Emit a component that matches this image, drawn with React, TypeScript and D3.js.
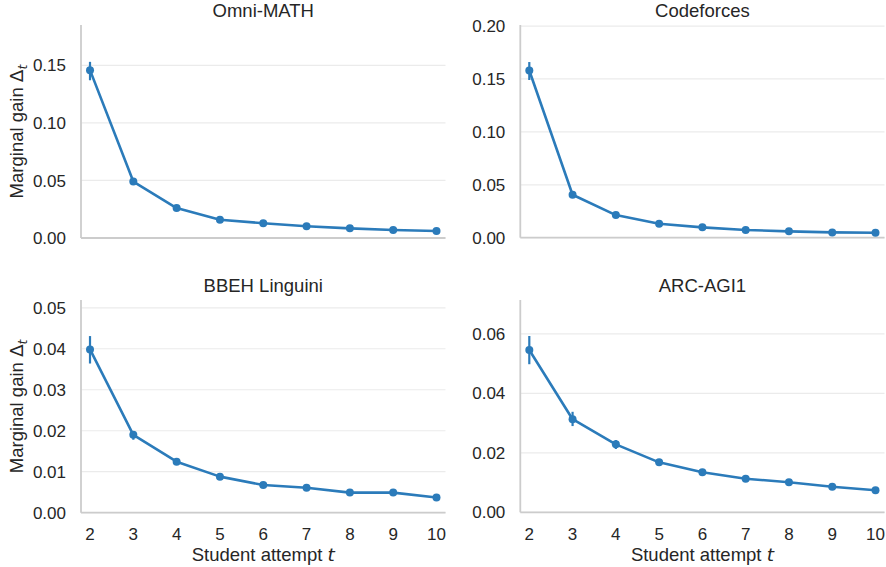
import React from "react";
import * as d3 from "d3";

const attempts = [2, 3, 4, 5, 6, 7, 8, 9, 10];

const omniMath = [0.1458, 0.049, 0.026, 0.0159, 0.0128, 0.0102, 0.0084, 0.007, 0.0061];
const omniMathLo = [0.137, 0.0482, 0.0255, 0.0156, 0.0125, 0.01, 0.0082, 0.0068, 0.006];
const omniMathHi = [0.153, 0.0498, 0.0265, 0.0162, 0.0131, 0.0104, 0.0086, 0.0072, 0.0062];

const codeforces = [0.158, 0.0406, 0.0214, 0.0132, 0.0098, 0.0073, 0.006, 0.005, 0.0047];
const codeforcesLo = [0.149, 0.0398, 0.021, 0.0129, 0.0096, 0.0071, 0.0058, 0.0049, 0.0046];
const codeforcesHi = [0.166, 0.0414, 0.0218, 0.0135, 0.01, 0.0075, 0.0062, 0.0051, 0.0048];

const linguini = [0.03985, 0.019, 0.01245, 0.0088, 0.00675, 0.0061, 0.0049, 0.0049, 0.0037];
const linguiniLo = [0.0364, 0.0178, 0.0121, 0.0086, 0.0066, 0.006, 0.0048, 0.0048, 0.0036];
const linguiniHi = [0.0431, 0.0197, 0.0128, 0.009, 0.0069, 0.0062, 0.005, 0.005, 0.0038];

const arcAgi = [0.0546, 0.0313, 0.02286, 0.0168, 0.01345, 0.0113, 0.0101, 0.0086, 0.0074];
const arcAgiLo = [0.0498, 0.029, 0.0213, 0.0163, 0.0131, 0.011, 0.0099, 0.0084, 0.0072];
const arcAgiHi = [0.0593, 0.0338, 0.0243, 0.0173, 0.0138, 0.0116, 0.0103, 0.0088, 0.0076];

const titles = ["Omni-MATH", "Codeforces", "BBEH Linguini", "ARC-AGI1"];
const yTicksOmni = [0, 0.05, 0.1, 0.15];
const yTicksCode = [0, 0.05, 0.1, 0.15, 0.2];
const yTicksLing = [0, 0.01, 0.02, 0.03, 0.04, 0.05];
const yTicksArc = [0, 0.02, 0.04, 0.06];

const COLOR = "#2b7bba";
const TEXT = "#262626";
const FONT = "'Liberation Sans', Arial, sans-serif";
const FS = 18.5;
const TFS = 17;

type PanelSpec = {
  title: string;
  vals: number[];
  lo: number[];
  hi: number[];
  ticks: number[];
  fmt: string;
  yMax: number;
  x0: number;
  x1: number;
  yTop: number;
  yBot: number;
  showX: boolean;
  showYLabel: boolean;
};

const panels: PanelSpec[] = [
  { title: titles[0], vals: omniMath, lo: omniMathLo, hi: omniMathHi, ticks: yTicksOmni, fmt: ".2f", yMax: 0.185, x0: 81, x1: 445.5, yTop: 25, yBot: 238, showX: false, showYLabel: true },
  { title: titles[1], vals: codeforces, lo: codeforcesLo, hi: codeforcesHi, ticks: yTicksCode, fmt: ".2f", yMax: 0.201, x0: 520.3, x1: 884.5, yTop: 25, yBot: 237.7, showX: false, showYLabel: false },
  { title: titles[2], vals: linguini, lo: linguiniLo, hi: linguiniHi, ticks: yTicksLing, fmt: ".2f", yMax: 0.0519, x0: 81, x1: 445.5, yTop: 300, yBot: 512.7, showX: true, showYLabel: true },
  { title: titles[3], vals: arcAgi, lo: arcAgiLo, hi: arcAgiHi, ticks: yTicksArc, fmt: ".2f", yMax: 0.0714, x0: 520.3, x1: 884.5, yTop: 300, yBot: 512.3, showX: true, showYLabel: false },
];

function Panel({ p }: { p: PanelSpec }) {
  const x = d3.scaleLinear().domain([1.792, 10.208]).range([p.x0, p.x1]);
  const y = d3.scaleLinear().domain([0, p.yMax]).range([p.yBot, p.yTop]);
  const fmt = d3.format(p.fmt);
  const line = d3
    .line<number>()
    .x((_, i) => x(attempts[i]))
    .y((v) => y(v));
  const cx = (p.x0 + p.x1) / 2;
  const cy = (p.yTop + p.yBot) / 2;
  return (
    <g>
      {p.ticks.map((t) => (
        <line key={"g" + t} x1={p.x0} x2={p.x1} y1={y(t)} y2={y(t)} stroke="#ebebeb" strokeWidth={1.2} />
      ))}
      <line x1={p.x0} x2={p.x0} y1={p.yTop} y2={p.yBot} stroke="#cccccc" strokeWidth={1.8} />
      <line x1={p.x0} x2={p.x1} y1={p.yBot} y2={p.yBot} stroke="#cccccc" strokeWidth={1.8} />
      {p.ticks.map((t) => (
        <text key={"t" + t} x={p.x0 - 15} y={y(t)} dy="0.36em" textAnchor="end" fontSize={TFS} fill={TEXT} fontFamily={FONT}>
          {fmt(t)}
        </text>
      ))}
      {p.showX &&
        attempts.map((a) => (
          <text key={"x" + a} x={x(a)} y={p.yBot + 27.5} textAnchor="middle" fontSize={TFS} fill={TEXT} fontFamily={FONT}>
            {a}
          </text>
        ))}
      {p.showX && (
        <text x={cx} y={p.yBot + 48.5} textAnchor="middle" fontSize={FS} fill={TEXT} fontFamily={FONT}>
          Student attempt <tspan fontStyle="italic" fontFamily="'DejaVu Sans', sans-serif">t</tspan>
        </text>
      )}
      {p.showYLabel && (
        <text transform={`translate(23,${cy}) rotate(-90)`} textAnchor="middle" fontSize={FS} fill={TEXT} fontFamily={FONT}>
          Marginal gain <tspan fontFamily="'DejaVu Sans', sans-serif">Δ</tspan>
          <tspan fontStyle="italic" fontFamily="'DejaVu Sans', sans-serif" fontSize={12.5} dy="3.5">t</tspan>
        </text>
      )}
      <text x={cx} y={p.yTop - 8} textAnchor="middle" fontSize={FS} fill={TEXT} fontFamily={FONT}>
        {p.title}
      </text>
      <path d={line(p.vals) || ""} fill="none" stroke={COLOR} strokeWidth={2.6} strokeLinejoin="round" />
      {attempts.map((a, i) => (
        <line key={"e" + a} x1={x(a)} x2={x(a)} y1={y(p.lo[i])} y2={y(p.hi[i])} stroke={COLOR} strokeWidth={2.2} />
      ))}
      {attempts.map((a, i) => (
        <circle key={"c" + a} cx={x(a)} cy={y(p.vals[i])} r={4} fill={COLOR} />
      ))}
    </g>
  );
}

export default function App() {
  return (
    <svg width={886} height={567} style={{ position: "absolute", left: 0, top: 0, background: "#fff" }}>
      <rect width={886} height={567} fill="#fff" />
      {panels.map((p) => (
        <Panel key={p.title} p={p} />
      ))}
    </svg>
  );
}
